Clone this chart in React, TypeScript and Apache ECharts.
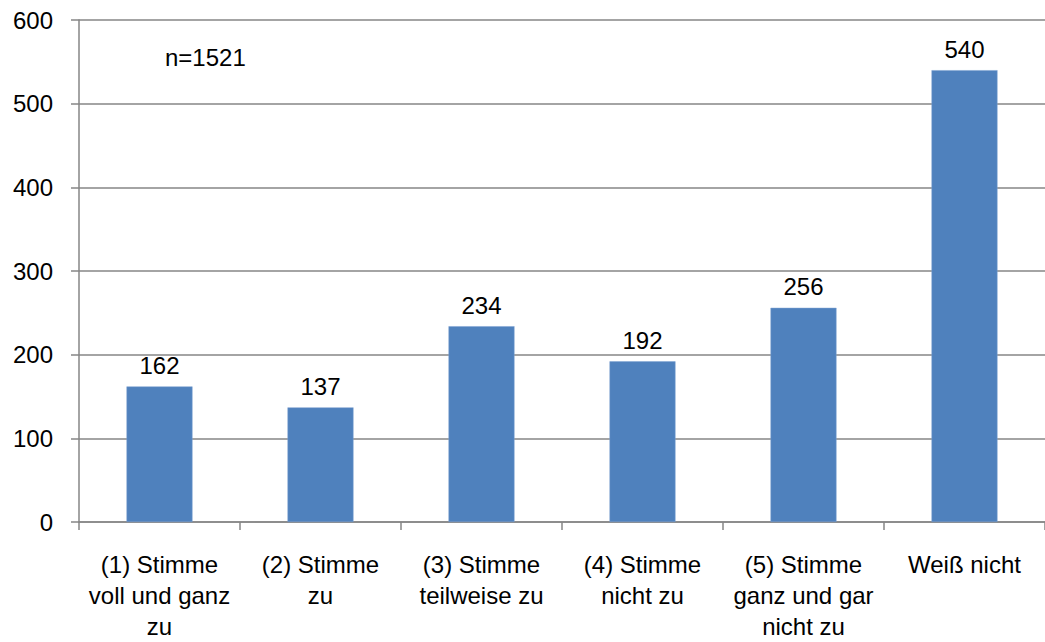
import React, { useEffect, useRef } from "react";
import * as echarts from "echarts";

const categories = [
  "(1) Stimme\nvoll und ganz\nzu",
  "(2) Stimme\nzu",
  "(3) Stimme\nteilweise zu",
  "(4) Stimme\nnicht zu",
  "(5) Stimme\nganz und gar\nnicht zu",
  "Weiß nicht",
];
const values = [162, 137, 234, 192, 256, 540];
const sampleNote = "n=1521";

const FONT = "'Liberation Sans', Arial, sans-serif";
const FS = 24;

export default function App() {
  const ref = useRef<HTMLDivElement>(null);
  useEffect(() => {
    if (!ref.current) return;
    const chart = echarts.init(ref.current, undefined, { renderer: "svg" });
    chart.setOption({
      animation: false,
      backgroundColor: "#ffffff",
      textStyle: { fontFamily: FONT },
      grid: { left: 79, top: 20, width: 973, height: 506, containLabel: false },
      graphic: [
        {
          type: "text",
          left: 165,
          top: 45,
          style: { text: sampleNote, fontSize: FS, fontFamily: FONT, fill: "#000" },
        },
      ],
      xAxis: {
        type: "category",
        data: categories,
        axisLine: { show: true, lineStyle: { color: "#868686", width: 1.5 } },
        axisTick: { show: true, length: 8, alignWithLabel: false, lineStyle: { color: "#868686", width: 1.5 } },
        axisLabel: {
          color: "#000",
          fontSize: FS,
          fontFamily: FONT,
          lineHeight: 31,
          margin: 27,
          interval: 0,
          align: "center",
        },
      },
      yAxis: {
        type: "value",
        min: 0,
        max: 600,
        interval: 100,
        axisLine: { show: true, lineStyle: { color: "#868686", width: 1.5 } },
        axisTick: { show: true, length: 8, lineStyle: { color: "#868686", width: 1.5 } },
        axisLabel: { color: "#000", fontSize: FS, fontFamily: FONT, margin: 26 },
        splitLine: { show: true, lineStyle: { color: "#868686", width: 1.5 } },
      },
      series: [
        {
          type: "bar",
          data: values,
          barWidth: 66,
          itemStyle: { color: "#4F81BD", borderColor: "#7FA3D3", borderWidth: 0.5 },
          label: {
            show: true,
            position: "top",
            distance: 9,
            color: "#000",
            fontSize: FS,
            fontFamily: FONT,
          },
        },
      ],
    });
    return () => chart.dispose();
  }, []);
  return (
    <div
      ref={ref}
      style={{ position: "fixed", left: 0, top: 0, width: 1045, height: 642, background: "#fff" }}
    />
  );
}
